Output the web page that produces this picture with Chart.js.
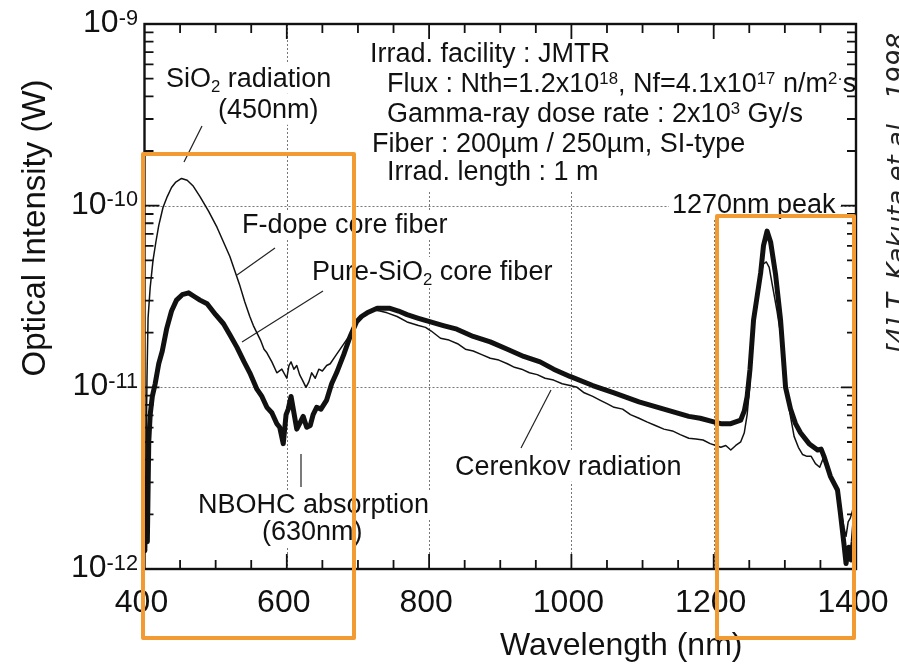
<!DOCTYPE html>
<html>
<head>
<meta charset="utf-8">
<script src="https://cdn.jsdelivr.net/npm/chart.js@4.4.1/dist/chart.umd.min.js"></script>
<style>
  html, body { margin: 0; padding: 0; background: #fff; }
  canvas { display: block; }
</style>
</head>
<body>
<canvas id="chart" width="899" height="665"></canvas>
<script>
// F-dope core fiber (thin line): wavelength (nm) and log10 of intensity (W)
const fDopeNm = [400.5, 402, 403.5, 405, 408, 412, 416, 420, 426, 432, 438, 444, 452, 460, 468, 478, 490, 502, 511, 520,
  527, 534, 541, 548, 553, 558, 563, 568, 572, 579, 586, 593, 600, 603, 606, 610, 614, 618, 622, 627,
  631, 635, 640, 645, 650, 656, 661, 668, 675, 682, 689, 698, 706, 714, 722, 731, 741, 755, 769, 785,
  795, 803, 816, 828, 840, 851, 862, 874, 886, 898, 910, 920, 930, 941, 952, 963, 975, 987, 998, 1008,
  1018, 1030, 1040, 1050, 1060, 1072, 1083, 1095, 1106, 1118, 1130, 1142, 1153, 1165, 1175, 1185, 1195, 1203, 1210, 1217,
  1224, 1231, 1238, 1243, 1247, 1251, 1256, 1261, 1266, 1270, 1274, 1278, 1283, 1289, 1295, 1301, 1307, 1313, 1319, 1325,
  1331, 1337, 1343, 1349, 1355, 1360, 1365, 1370, 1375, 1379, 1383, 1386, 1389, 1392, 1395, 1398, 1400];
const fDopeLog = [-11.9, -11.45, -10.95, -10.62, -10.45, -10.3, -10.2, -10.11, -10.01, -9.95, -9.9, -9.87, -9.85, -9.86, -9.89, -9.95, -10.03, -10.12, -10.2, -10.28,
  -10.36, -10.44, -10.53, -10.61, -10.66, -10.7, -10.74, -10.79, -10.81, -10.86, -10.92, -10.9, -10.95, -10.88, -10.86, -10.9, -10.88, -10.93, -10.96, -11.0,
  -10.97, -10.92, -10.95, -10.9, -10.91, -10.88, -10.87, -10.83, -10.79, -10.75, -10.71, -10.65, -10.61, -10.59, -10.575, -10.58, -10.59, -10.61, -10.64, -10.66,
  -10.67, -10.69, -10.73, -10.74, -10.76, -10.79, -10.8, -10.82, -10.84, -10.85, -10.87, -10.89, -10.9, -10.92, -10.93, -10.95, -10.96, -10.98, -10.99, -11.0,
  -11.03, -11.05, -11.07, -11.09, -11.11, -11.12, -11.15, -11.17, -11.19, -11.21, -11.23, -11.24, -11.26, -11.28, -11.285, -11.29, -11.31, -11.32, -11.33, -11.32,
  -11.345, -11.32, -11.3, -11.25, -11.15, -10.98, -10.66, -10.5, -10.38, -10.32, -10.31, -10.34, -10.45, -10.58, -10.73, -10.96, -11.14, -11.27, -11.33, -11.37,
  -11.38, -11.38, -11.42, -11.44, -11.38, -11.45, -11.5, -11.54, -11.6, -11.68, -11.77, -11.82, -11.74, -11.72, -11.68, -11.62, -11.6];

// Pure-SiO2 core fiber (thick line)
const pureNm = [400.5, 402, 404, 406, 408, 411, 415, 420, 425, 431, 438, 445, 453, 462, 470, 478, 488, 500, 511, 520,
  530, 540, 548, 558, 565, 572, 579, 586, 590, 595, 599, 602, 606, 610, 614, 618, 623, 628, 633, 637,
  642, 648, 656, 663, 670, 680, 689, 698, 705, 713, 727, 745, 757, 769, 785, 802, 820, 839, 862, 886,
  910, 933, 956, 975, 998, 1030, 1060, 1095, 1130, 1165, 1181, 1200, 1210, 1224, 1238, 1243, 1247, 1251, 1256, 1261,
  1266, 1270, 1275, 1280, 1287, 1294, 1301, 1308, 1315, 1322, 1334, 1346, 1351, 1355, 1364, 1374, 1378, 1383, 1386, 1388,
  1390, 1393, 1396, 1398, 1400];
const pureLog = [-11.9, -11.5, -11.85, -11.3, -11.15, -11.05, -10.98, -10.87, -10.8, -10.68, -10.58, -10.52, -10.49, -10.48, -10.5, -10.52, -10.54, -10.6, -10.65, -10.71,
  -10.78, -10.86, -10.92, -11.01, -11.05, -11.11, -11.14, -11.2, -11.22, -11.31, -11.15, -11.12, -11.05, -11.14, -11.23, -11.2, -11.16, -11.22, -11.21, -11.15,
  -11.11, -11.12, -11.07, -10.98, -10.92, -10.82, -10.72, -10.64, -10.61, -10.59, -10.565, -10.565, -10.58, -10.6, -10.62, -10.64, -10.66, -10.68, -10.72, -10.75,
  -10.79, -10.83, -10.86, -10.9, -10.94, -10.99, -11.03, -11.08, -11.12, -11.16, -11.17, -11.19, -11.2, -11.2, -11.18, -11.13, -11.05, -10.9, -10.63, -10.5,
  -10.37, -10.22, -10.14, -10.2, -10.38, -10.63, -11.0, -11.12, -11.2, -11.25, -11.31, -11.345, -11.34, -11.38, -11.49, -11.565, -11.69, -11.86, -11.97, -11.92,
  -11.88, -11.95, -11.85, -11.75, -11.72];

const xLabelTicks = [400, 600, 800, 1000, 1200, 1400];
const xGridTicks = [600, 800, 1000, 1200];
const yDecades = [-12, -11, -10, -9];
const yGridDecades = [-11, -10];

const FONT = '"Liberation Sans", Arial, Helvetica, sans-serif';
const ORANGE = '#f39b33';

// annotation texts: ^{..} = superscript, _{..} = subscript
const notes = [
  { t: 'Irrad. facility : JMTR', x: 370, y: 62 },
  { t: 'Flux : Nth=1.2x10^{18}, Nf=4.1x10^{17} n/m^{2·}s', x: 387, y: 92 },
  { t: 'Gamma-ray dose rate : 2x10^{3} Gy/s', x: 387, y: 122 },
  { t: 'Fiber : 200µm / 250µm, SI-type', x: 372, y: 152 },
  { t: 'Irrad. length : 1 m', x: 387, y: 180 },
  { t: 'SiO_{2} radiation', x: 166, y: 87, bg: true },
  { t: '(450nm)', x: 218, y: 118, bg: true },
  { t: 'F-dope core fiber', x: 242, y: 233, bg: true },
  { t: 'Pure-SiO_{2} core fiber', x: 312, y: 280, bg: true },
  { t: 'NBOHC absorption', x: 198, y: 513, bg: true },
  { t: '(630nm)', x: 262, y: 540, bg: true },
  { t: 'Cerenkov radiation', x: 455, y: 475, bg: true },
  { t: '1270nm peak', x: 672, y: 213, bg: true }
];
const leaders = [
  [202, 126, 184, 162],
  [275, 248, 237, 275],
  [323, 291, 242, 342],
  [301, 454, 301, 487],
  [551, 390, 521, 448]
];

function parseRuns(str) {
  return str.split(/(\^\{[^}]*\}|_\{[^}]*\})/).filter(s => s).map(s => {
    if (s.startsWith('^{')) return { t: s.slice(2, -1), k: 'sup' };
    if (s.startsWith('_{')) return { t: s.slice(2, -1), k: 'sub' };
    return { t: s, k: 'n' };
  });
}

function drawRich(ctx, str, x, y, size, o) {
  o = o || {};
  const small = size * (o.scale || 0.62);
  const runs = parseRuns(str);
  let w = 0;
  runs.forEach(r => {
    ctx.font = (r.k === 'n' ? size : small) + 'px ' + FONT;
    r.w = ctx.measureText(r.t).width;
    w += r.w;
  });
  let cx = o.align === 'center' ? x - w / 2 : o.align === 'right' ? x - w : x;
  if (o.bg) {
    ctx.fillStyle = '#fff';
    ctx.fillRect(cx - 3, y - size * 0.85, w + 6, size * 1.1);
  }
  ctx.fillStyle = '#111';
  ctx.textAlign = 'left';
  ctx.textBaseline = 'alphabetic';
  runs.forEach(r => {
    ctx.font = (r.k === 'n' ? size : small) + 'px ' + FONT;
    const dy = r.k === 'sup' ? -size * (o.raise || 0.3) : r.k === 'sub' ? size * 0.17 : 0;
    ctx.fillText(r.t, cx, y + dy);
    cx += r.w;
  });
}

const figurePlugin = {
  id: 'figure',
  beforeDatasetsDraw(chart) {
    const { ctx, chartArea: a, scales: { x, y } } = chart;
    ctx.save();
    // dotted grid on major lines
    ctx.strokeStyle = '#777';
    ctx.lineWidth = 1;
    ctx.setLineDash([2, 2]);
    xGridTicks.forEach(v => {
      const px = Math.round(x.getPixelForValue(v)) + 0.5;
      ctx.beginPath(); ctx.moveTo(px, a.top); ctx.lineTo(px, a.bottom); ctx.stroke();
    });
    yGridDecades.forEach(d => {
      const py = Math.round(y.getPixelForValue(Math.pow(10, d))) + 0.5;
      ctx.beginPath(); ctx.moveTo(a.left, py); ctx.lineTo(a.right, py); ctx.stroke();
    });
    ctx.setLineDash([]);
    // white panel behind the irradiation conditions block
    ctx.fillStyle = '#fff';
    ctx.fillRect(365, a.top + 4, a.right - 367, 164);
    notes.forEach(n => drawRich(ctx, n.t, n.x, n.y, 27, { bg: n.bg }));
    ctx.strokeStyle = '#222';
    ctx.lineWidth = 1.2;
    leaders.forEach(l => {
      ctx.beginPath(); ctx.moveTo(l[0], l[1]); ctx.lineTo(l[2], l[3]); ctx.stroke();
    });
    ctx.restore();
  },
  afterDatasetsDraw(chart) {
    const { ctx, chartArea: a, scales: { x, y } } = chart;
    ctx.save();
    ctx.strokeStyle = '#111';
    // inner ticks
    ctx.lineWidth = 1.8;
    for (let v = 450; v < 1400; v += 50) {
      const px = x.getPixelForValue(v);
      const len = v % 200 === 0 ? 15 : 9;
      ctx.beginPath();
      ctx.moveTo(px, a.bottom); ctx.lineTo(px, a.bottom - len);
      ctx.moveTo(px, a.top); ctx.lineTo(px, a.top + len);
      ctx.stroke();
    }
    for (let d = -12; d < -9; d++) {
      for (let m = 1; m <= 9; m++) {
        if (d === -12 && m === 1) continue;
        const py = y.getPixelForValue(m * Math.pow(10, d));
        const len = m === 1 ? 15 : 9;
        ctx.beginPath();
        ctx.moveTo(a.left, py); ctx.lineTo(a.left + len, py);
        ctx.moveTo(a.right, py); ctx.lineTo(a.right - len, py);
        ctx.stroke();
      }
    }
    // frame
    ctx.lineWidth = 2.4;
    ctx.strokeRect(a.left, a.top, a.right - a.left, a.bottom - a.top);

    // tick labels
    ctx.fillStyle = '#111';
    ctx.font = '32px ' + FONT;
    ctx.textAlign = 'center';
    ctx.textBaseline = 'alphabetic';
    xLabelTicks.forEach(v => ctx.fillText(String(v), x.getPixelForValue(v) - 3, 612));
    yDecades.forEach(d => {
      const py = y.getPixelForValue(Math.pow(10, d));
      drawRich(ctx, '10^{' + d + '}', 138, py + 8, 32, { align: 'right', scale: 0.68, raise: 0.23 });
    });

    // axis titles
    ctx.fillStyle = '#111';
    ctx.font = '32px ' + FONT;
    ctx.textAlign = 'left';
    ctx.fillText('Wavelength (nm)', 500, 655);
    ctx.save();
    ctx.translate(45, 228);
    ctx.rotate(-Math.PI / 2);
    ctx.textAlign = 'center';
    ctx.font = '33px ' + FONT;
    ctx.fillText('Optical Intensity (W)', 0, 0);
    ctx.restore();

    // citation on the right edge
    ctx.save();
    ctx.translate(906, 354);
    ctx.rotate(-Math.PI / 2);
    ctx.textAlign = 'left';
    ctx.font = 'italic 26px "DejaVu Sans", sans-serif';
    ctx.fillStyle = '#222';
    ctx.fillText('[4] T. Kakuta et al., 1998', 0, 0);
    ctx.restore();

    // orange highlight boxes
    ctx.strokeStyle = ORANGE;
    ctx.lineWidth = 4;
    ctx.lineJoin = 'round';
    ctx.strokeRect(143, 154, 211, 484);
    ctx.strokeRect(717, 216, 137, 422);
    ctx.restore();
  }
};

new Chart(document.getElementById('chart'), {
  type: 'line',
  data: {
    datasets: [
      {
        label: 'Pure-SiO2 core fiber',
        data: pureNm.map((v, i) => ({ x: v, y: Math.pow(10, pureLog[i]) })),
        borderColor: '#111',
        borderWidth: 5
      },
      {
        label: 'F-dope core fiber',
        data: fDopeNm.map((v, i) => ({ x: v, y: Math.pow(10, fDopeLog[i]) })),
        borderColor: '#111',
        borderWidth: 1.5
      }
    ]
  },
  options: {
    responsive: false,
    animation: false,
    devicePixelRatio: 1,
    layout: { padding: { left: 144.5, right: 43, top: 24, bottom: 96 } },
    plugins: { legend: { display: false }, tooltip: { enabled: false } },
    elements: {
      point: { radius: 0 },
      line: { tension: 0, borderJoinStyle: 'round', borderCapStyle: 'round', fill: false }
    },
    scales: {
      x: { type: 'linear', min: 400, max: 1400, display: false },
      y: { type: 'logarithmic', min: 1e-12, max: 1e-9, display: false }
    }
  },
  plugins: [figurePlugin]
});
</script>
</body>
</html>
